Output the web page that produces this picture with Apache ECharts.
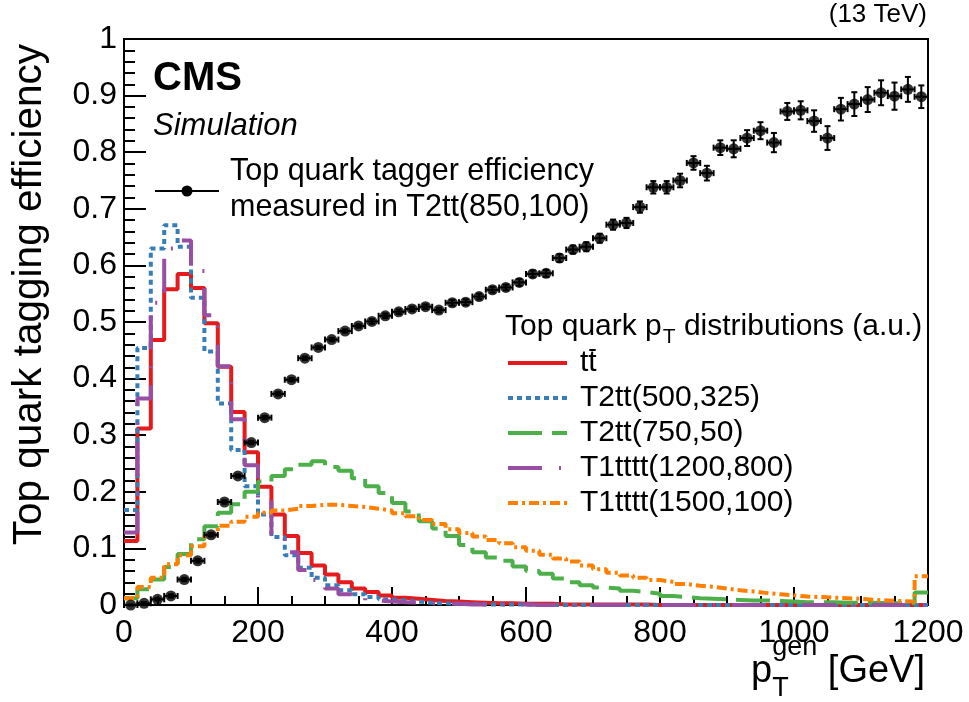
<!DOCTYPE html>
<html>
<head>
<meta charset="utf-8">
<script src="https://cdn.jsdelivr.net/npm/echarts@6/dist/echarts.min.js"></script>
<style>
  html, body { margin: 0; padding: 0; background: #fff; }
  #chart { width: 969px; height: 702px; }
</style>
</head>
<body>
<div id="chart"></div>
<script>
// binning of the gen-level top pT histograms (GeV)
const BIN_WIDTH = 20;
const N_BINS = 60;
const xTicks = [0, 200, 400, 600, 800, 1000, 1200];
const yTicks = [0, 0.1, 0.2, 0.3, 0.4, 0.5, 0.6, 0.7, 0.8, 0.9, 1];

// tagger efficiency, one point per bin (T2tt(850,100))
const effValues = [
  0.000, 0.003, 0.010, 0.016, 0.045, 0.078, 0.124, 0.182, 0.228, 0.287,
  0.331, 0.373, 0.398, 0.436, 0.455, 0.469, 0.484, 0.493, 0.501, 0.511,
  0.518, 0.523, 0.527, 0.521, 0.534, 0.535, 0.545, 0.557, 0.561, 0.570,
  0.585, 0.586, 0.613, 0.628, 0.633, 0.648, 0.672, 0.675, 0.703, 0.738,
  0.738, 0.750, 0.781, 0.763, 0.808, 0.806, 0.825, 0.838, 0.817, 0.872,
  0.874, 0.855, 0.825, 0.876, 0.885, 0.893, 0.905, 0.899, 0.911, 0.898
];
const effErrors = [
  0.001, 0.002, 0.002, 0.003, 0.003, 0.003, 0.003, 0.003, 0.003, 0.003,
  0.003, 0.003, 0.003, 0.003, 0.003, 0.003, 0.003, 0.003, 0.004, 0.004,
  0.004, 0.004, 0.004, 0.004, 0.005, 0.005, 0.005, 0.005, 0.005, 0.006,
  0.006, 0.006, 0.007, 0.007, 0.008, 0.008, 0.009, 0.009, 0.010, 0.011,
  0.011, 0.012, 0.012, 0.013, 0.013, 0.015, 0.014, 0.015, 0.017, 0.015,
  0.016, 0.019, 0.021, 0.020, 0.021, 0.022, 0.022, 0.024, 0.022, 0.020
];

// top quark pT distributions (a.u.)
const ttbarValues = [
  0.113, 0.312, 0.468, 0.558, 0.585, 0.560, 0.498, 0.421, 0.341, 0.270,
  0.209, 0.160, 0.122, 0.092, 0.070, 0.054, 0.040, 0.029, 0.023, 0.017,
  0.013, 0.011, 0.009, 0.007, 0.006, 0.005, 0.004, 0.003, 0.003, 0.002,
  0.002, 0.002, 0.001, 0.001, 0.001, 0.001, 0.001, 0.001, 0.001, 0.000,
  0.000, 0.000, 0.000, 0.000, 0.000, 0.000, 0.000, 0.000, 0.000, 0.000,
  0.000, 0.000, 0.000, 0.000, 0.000, 0.000, 0.000, 0.000, 0.000, 0.000
];
const t2tt500Values = [
  0.168, 0.454, 0.630, 0.671, 0.633, 0.543, 0.448, 0.356, 0.274, 0.210,
  0.160, 0.120, 0.088, 0.066, 0.048, 0.035, 0.026, 0.019, 0.014, 0.010,
  0.008, 0.006, 0.004, 0.003, 0.002, 0.002, 0.001, 0.001, 0.001, 0.001,
  0.000, 0.000, 0.000, 0.000, 0.000, 0.000, 0.000, 0.000, 0.000, 0.000,
  0.000, 0.000, 0.000, 0.000, 0.000, 0.000, 0.000, 0.000, 0.000, 0.000,
  0.000, 0.000, 0.000, 0.000, 0.000, 0.000, 0.000, 0.000, 0.000, 0.000
];
const t2tt750Values = [
  0.012, 0.028, 0.045, 0.067, 0.090, 0.116, 0.139, 0.163, 0.178, 0.200,
  0.218, 0.228, 0.240, 0.248, 0.254, 0.244, 0.237, 0.224, 0.210, 0.198,
  0.180, 0.165, 0.148, 0.135, 0.122, 0.106, 0.093, 0.084, 0.078, 0.068,
  0.060, 0.055, 0.047, 0.040, 0.035, 0.031, 0.029, 0.025, 0.023, 0.020,
  0.016, 0.014, 0.012, 0.011, 0.010, 0.009, 0.008, 0.008, 0.007, 0.006,
  0.005, 0.005, 0.005, 0.004, 0.004, 0.004, 0.003, 0.003, 0.003, 0.022
];
const t1tttt1200Values = [
  0.128, 0.365, 0.534, 0.630, 0.644, 0.590, 0.512, 0.422, 0.328, 0.247,
  0.183, 0.125, 0.093, 0.062, 0.044, 0.029, 0.019, 0.012, 0.008, 0.006,
  0.005, 0.004, 0.003, 0.002, 0.002, 0.001, 0.001, 0.001, 0.001, 0.001,
  0.000, 0.000, 0.000, 0.000, 0.000, 0.000, 0.000, 0.000, 0.000, 0.000,
  0.000, 0.000, 0.000, 0.000, 0.000, 0.000, 0.000, 0.000, 0.000, 0.000,
  0.000, 0.000, 0.000, 0.000, 0.000, 0.000, 0.000, 0.000, 0.000, 0.000
];
const t1tttt1500Values = [
  0.012, 0.032, 0.048, 0.072, 0.088, 0.104, 0.124, 0.140, 0.147, 0.156,
  0.163, 0.167, 0.170, 0.175, 0.177, 0.177, 0.175, 0.173, 0.170, 0.167,
  0.162, 0.157, 0.150, 0.143, 0.134, 0.127, 0.121, 0.115, 0.109, 0.102,
  0.096, 0.089, 0.082, 0.077, 0.070, 0.063, 0.057, 0.052, 0.048, 0.044,
  0.041, 0.037, 0.034, 0.032, 0.029, 0.026, 0.024, 0.021, 0.019, 0.017,
  0.015, 0.014, 0.013, 0.012, 0.011, 0.009, 0.008, 0.007, 0.006, 0.051
];

const histNames = ['tt', 'T2tt(500,325)', 'T2tt(750,50)', 'T1tttt(1200,800)', 'T1tttt(1500,100)'];
const histColors = ['#e41a1c', '#377eb8', '#4daf4a', '#984ea3', '#ff7f00'];
const histDashes = ['solid', [5, 4], [34, 10], [34, 17, 2, 17], [10, 4, 3, 4]];
const histValues = [ttbarValues, t2tt500Values, t2tt750Values, t1tttt1200Values, t1tttt1500Values];

const FONT = '"Liberation Sans", Arial, Helvetica, sans-serif';

// histogram -> step line points (left edges + closing right edge)
function histPoints(vals) {
  const pts = vals.map((v, i) => [i * BIN_WIDTH, v]);
  pts.push([N_BINS * BIN_WIDTH, vals[vals.length - 1]]);
  return pts;
}

const effData = effValues.map((v, i) => [i * BIN_WIDTH + BIN_WIDTH / 2, v, effErrors[i]]);

// text width helper for the sub/superscripts
const measureCtx = document.createElement('canvas').getContext('2d');
function textWidth(str, size, extra) {
  measureCtx.font = (extra || '') + ' ' + size + 'px ' + FONT;
  return measureCtx.measureText(str).width;
}

const histSeries = histValues.map((vals, k) => ({
  name: histNames[k],
  type: 'line',
  step: 'end',
  symbol: 'none',
  data: histPoints(vals),
  lineStyle: { color: histColors[k], width: 4, type: histDashes[k] },
  z: 3 + k,
  silent: true
}));

// ---- legends and labels ----
const graphics = [];
function addText(x, y, text, size, opts) {
  graphics.push(Object.assign({
    type: 'text', x: x, y: y, silent: true,
    style: Object.assign({
      text: text, fontSize: size, fontFamily: FONT, fill: '#000',
      align: 'left', verticalAlign: 'middle'
    }, (opts && opts.style) || {})
  }, (opts && opts.el) || {}));
}

addText(927, 15, '(13 TeV)', 26, { style: { align: 'right' } });
addText(153, 79, 'CMS', 40, { style: { fontWeight: 'bold' } });
addText(153, 126, 'Simulation', 31, { style: { fontStyle: 'italic' } });

// y title
addText(30, 44, 'Top quark tagging efficiency', 40.5, {
  style: { align: 'right' }, el: { rotation: Math.PI / 2 }
});

// x title: p_T^gen [GeV]
(function () {
  const big = 38, small = 27;
  const wp = textWidth('p', big);
  const wgen = textWidth('gen', small);
  const wrest = textWidth(' [GeV]', big);
  const x0 = 925 - (wp + wgen + wrest);
  addText(x0, 672, 'p', big);
  addText(x0 + wp, 648, 'gen', small);
  addText(x0 + wp, 689, 'T', small);
  addText(x0 + wp + wgen, 672, ' [GeV]', big);
})();

// efficiency legend
graphics.push({
  type: 'line', silent: true,
  shape: { x1: 155, y1: 191, x2: 219, y2: 191 },
  style: { stroke: '#000', lineWidth: 2 }
});
graphics.push({
  type: 'circle', silent: true,
  shape: { cx: 187, cy: 191, r: 5.5 },
  style: { fill: '#000' }
});
addText(230, 172, 'Top quark tagger efficiency', 30.5);
addText(230, 208, 'measured in T2tt(850,100)', 30.5);

// distributions legend
(function () {
  const size = 30;
  const x0 = 505, y0 = 327;
  const w1 = textWidth('Top quark p', size);
  addText(x0, y0, 'Top quark p', size);
  addText(x0 + w1 + 1, y0 + 10, 'T', 21);
  addText(x0 + w1 + textWidth('T', 21) + 1, y0, ' distributions (a.u.)', size);

  const rowY = [363, 398, 433, 468, 503];
  histNames.forEach((name, k) => {
    graphics.push({
      type: 'line', silent: true,
      shape: { x1: 508, y1: rowY[k], x2: 567, y2: rowY[k] },
      style: {
        stroke: histColors[k], lineWidth: 4,
        lineDash: histDashes[k] === 'solid' ? null : histDashes[k]
      }
    });
    addText(580, rowY[k], name, size);
  });
  // bar over the second t of tt
  const wt = textWidth('t', size);
  graphics.push({
    type: 'line', silent: true,
    shape: { x1: 580 + wt + 1, y1: rowY[0] - 13, x2: 580 + 2 * wt - 1, y2: rowY[0] - 13 },
    style: { stroke: '#000', lineWidth: 2 }
  });
})();

const chart = echarts.init(document.getElementById('chart'), null, { renderer: 'canvas' });
chart.setOption({
  animation: false,
  backgroundColor: '#fff',
  grid: {
    left: 124, right: 41, top: 39, bottom: 97,
    show: true, borderColor: '#000', borderWidth: 2, containLabel: false
  },
  xAxis: {
    type: 'value', min: xTicks[0], max: xTicks[xTicks.length - 1], interval: 200,
    axisLine: { lineStyle: { color: '#000', width: 2 } },
    axisTick: { inside: true, length: 18, lineStyle: { color: '#000', width: 2 } },
    minorTick: { show: true, splitNumber: 4, length: 9, lineStyle: { color: '#000', width: 2 } },
    splitLine: { show: false },
    axisLabel: {
      color: '#000', fontSize: 32, fontFamily: FONT, margin: 12,
      formatter: v => String(v)
    }
  },
  yAxis: {
    type: 'value', min: yTicks[0], max: yTicks[yTicks.length - 1], interval: 0.1,
    axisLine: { show: true, lineStyle: { color: '#000', width: 2 } },
    axisTick: { show: true, inside: true, length: 22, lineStyle: { color: '#000', width: 2 } },
    minorTick: { show: true, splitNumber: 5, length: 11, lineStyle: { color: '#000', width: 2 } },
    splitLine: { show: false },
    axisLabel: {
      color: '#000', fontSize: 32, fontFamily: FONT, margin: 7,
      formatter: v => String(Math.round(v * 10) / 10)
    }
  },
  series: histSeries.concat([
    {
      name: 'eff-errors',
      type: 'custom',
      data: effData,
      z: 20,
      silent: true,
      renderItem: function (params, api) {
        const x = api.value(0), y = api.value(1), e = api.value(2);
        const c = api.coord([x, y]);
        const lo = api.coord([x - BIN_WIDTH / 2, y])[0];
        const hi = api.coord([x + BIN_WIDTH / 2, y])[0];
        const top = api.coord([x, y + e])[1];
        const bot = api.coord([x, y - e])[1];
        const cap = 3;
        const st = { stroke: '#000', lineWidth: 2 };
        return {
          type: 'group',
          children: [
            { type: 'line', shape: { x1: lo, y1: c[1], x2: hi, y2: c[1] }, style: st },
            { type: 'line', shape: { x1: lo, y1: c[1] - cap, x2: lo, y2: c[1] + cap }, style: st },
            { type: 'line', shape: { x1: hi, y1: c[1] - cap, x2: hi, y2: c[1] + cap }, style: st },
            { type: 'line', shape: { x1: c[0], y1: top, x2: c[0], y2: bot }, style: st },
            { type: 'line', shape: { x1: c[0] - cap, y1: top, x2: c[0] + cap, y2: top }, style: st },
            { type: 'line', shape: { x1: c[0] - cap, y1: bot, x2: c[0] + cap, y2: bot }, style: st }
          ]
        };
      }
    },
    {
      name: 'Top quark tagger efficiency',
      type: 'scatter',
      data: effData.map(d => [d[0], d[1]]),
      symbol: 'circle',
      symbolSize: 11,
      itemStyle: { color: '#000' },
      z: 21,
      silent: true
    }
  ]),
  graphic: graphics
});
</script>
</body>
</html>
